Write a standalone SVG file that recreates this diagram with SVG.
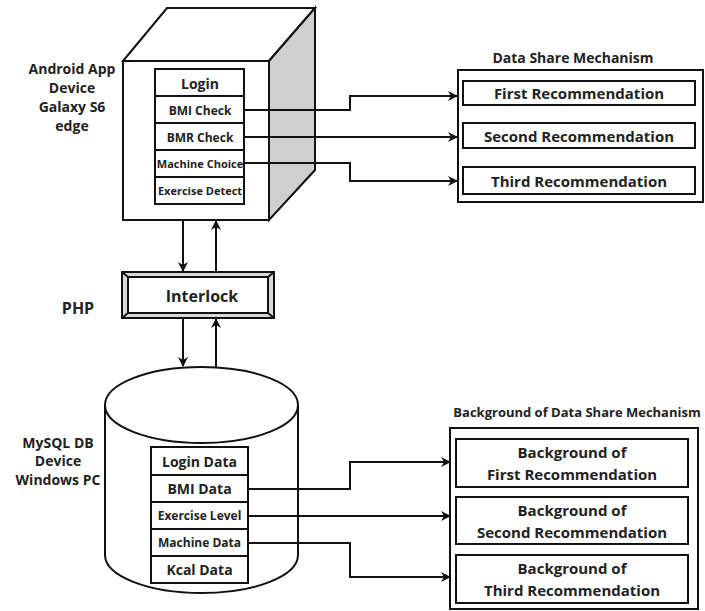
<svg xmlns="http://www.w3.org/2000/svg" width="705" height="611" viewBox="0 0 705 611">
<style>
text{font-family:"Open Sans","Noto Sans",sans-serif;font-weight:bold;fill:#222;text-anchor:middle;dominant-baseline:central}
.s{fill:#fff;stroke:#111;stroke-width:2}
.c{fill:none;stroke:#111;stroke-width:2}
</style>
<defs>
<marker id="ah" viewBox="0 0 10 10" refX="9" refY="5" markerWidth="5" markerHeight="5" orient="auto" markerUnits="strokeWidth">
<path d="M0,0 L10,5 L0,10 L3,5 Z" fill="#111"/>
</marker>
</defs>
<rect width="705" height="611" fill="#fff"/>

<g id="android">
<polygon class="s" points="123,61 167,8 315,8 269,61"/>
<polygon points="269,61 315,8 315,170 269,220" fill="#cfcfcf" stroke="#111" stroke-width="2"/>
<rect class="s" x="123" y="61" width="146" height="159"/>
<text x="72" y="68" font-size="14">Android App</text>
<text x="72" y="87" font-size="14">Device</text>
<text x="72" y="106" font-size="14">Galaxy S6</text>
<text x="72" y="125" font-size="14">edge</text>
<rect class="s" x="155" y="69" width="89" height="135"/>
<line class="c" x1="155" y1="96" x2="244" y2="96"/>
<line class="c" x1="155" y1="123" x2="244" y2="123"/>
<line class="c" x1="155" y1="150" x2="244" y2="150"/>
<line class="c" x1="155" y1="177" x2="244" y2="177"/>
<text x="200" y="83" font-size="14">Login</text>
<text x="200" y="110" font-size="12">BMI Check</text>
<text x="200" y="137" font-size="12">BMR Check</text>
<text x="200" y="163" font-size="11">Machine Choice</text>
<text x="200" y="190" font-size="11">Exercise Detect</text>
</g>

<g id="datashare">
<text x="573" y="57" font-size="14">Data Share Mechanism</text>
<rect class="s" x="458" y="70" width="245" height="132"/>
<rect class="s" x="463" y="81" width="232" height="24"/>
<rect class="s" x="463" y="123" width="232" height="25"/>
<rect class="s" x="463" y="167" width="232" height="27"/>
<text x="579" y="93" font-size="15">First Recommendation</text>
<text x="579" y="135.5" font-size="15">Second Recommendation</text>
<text x="579" y="181" font-size="15">Third Recommendation</text>
</g>

<g id="interlock">
<rect x="122" y="272" width="152" height="46" fill="#d8d8d8" stroke="#111" stroke-width="2"/>
<rect class="s" x="128" y="277" width="140" height="36"/>
<line class="c" x1="122" y1="272" x2="128" y2="277" stroke-width="1"/>
<line class="c" x1="274" y1="272" x2="268" y2="277" stroke-width="1"/>
<line class="c" x1="122" y1="318" x2="128" y2="313" stroke-width="1"/>
<line class="c" x1="274" y1="318" x2="268" y2="313" stroke-width="1"/>
<text x="202" y="296" font-size="16">Interlock</text>
<text x="78" y="308" font-size="16">PHP</text>
</g>

<g id="mysql">
<path class="s" d="M105,405 L105,555 A96.5,38 0 0 0 298,555 L298,405"/>
<ellipse class="s" cx="201.5" cy="405" rx="96.5" ry="38"/>
<text x="58" y="442" font-size="14">MySQL DB</text>
<text x="58" y="460" font-size="14">Device</text>
<text x="58" y="479" font-size="14">Windows PC</text>
<rect class="s" x="151" y="447" width="97" height="136"/>
<line class="c" x1="151" y1="475" x2="248" y2="475"/>
<line class="c" x1="151" y1="502" x2="248" y2="502"/>
<line class="c" x1="151" y1="529" x2="248" y2="529"/>
<line class="c" x1="151" y1="556" x2="248" y2="556"/>
<text x="199.5" y="461" font-size="14">Login Data</text>
<text x="199.5" y="488.5" font-size="14">BMI Data</text>
<text x="199.5" y="515.5" font-size="12">Exercise Level</text>
<text x="199.5" y="542.5" font-size="12">Machine Data</text>
<text x="199.5" y="569.5" font-size="14">Kcal Data</text>
</g>

<g id="background">
<text x="577" y="412" font-size="13">Background of Data Share Mechanism</text>
<rect class="s" x="450" y="428" width="248" height="181"/>
<rect class="s" x="456" y="439" width="232" height="48"/>
<rect class="s" x="456" y="497" width="232" height="47"/>
<rect class="s" x="456" y="555" width="232" height="48"/>
<text x="572" y="452" font-size="15">Background of</text>
<text x="572" y="474" font-size="15">First Recommendation</text>
<text x="572" y="510" font-size="15">Background of</text>
<text x="572" y="532" font-size="15">Second Recommendation</text>
<text x="572" y="568" font-size="15">Background of</text>
<text x="572" y="590" font-size="15">Third Recommendation</text>
</g>

<g id="connectors" class="c" marker-end="url(#ah)">
<polyline class="c" points="244,110 350,110 350,96 457,96" marker-end="url(#ah)"/>
<polyline class="c" points="244,137 457,137" marker-end="url(#ah)"/>
<polyline class="c" points="244,163 350,163 350,181 457,181" marker-end="url(#ah)"/>
<polyline class="c" points="248,489 350,489 350,462 450,462" marker-end="url(#ah)"/>
<polyline class="c" points="248,516 450,516" marker-end="url(#ah)"/>
<polyline class="c" points="248,543 350,543 350,577 450,577" marker-end="url(#ah)"/>
<line class="c" x1="183" y1="221" x2="183" y2="271" marker-end="url(#ah)"/>
<line class="c" x1="216" y1="271" x2="216" y2="221" marker-end="url(#ah)"/>
<line class="c" x1="183" y1="319" x2="183" y2="366" marker-end="url(#ah)"/>
<line class="c" x1="216" y1="367" x2="216" y2="319" marker-end="url(#ah)"/>
</g>
</svg>
